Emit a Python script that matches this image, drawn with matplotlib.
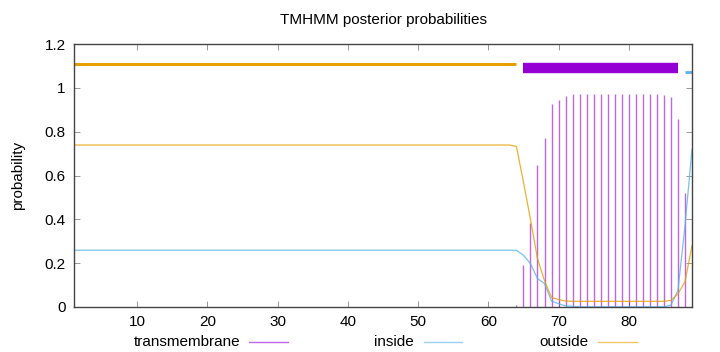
import numpy as np
import matplotlib
matplotlib.use('Agg')
import matplotlib.pyplot as plt
from matplotlib.lines import Line2D

plt.rcParams['font.family'] = ['Liberation Sans', 'DejaVu Sans']

# sequence positions 1..89
pos = np.arange(1, 90)

# posterior probabilities for positions 64..89 (flat before that)
tm_tail = [0.008, 0.19, 0.385, 0.65, 0.77, 0.927, 0.943, 0.964] + [0.97] * 13 + \
          [0.968, 0.958, 0.859, 0.52, 0.0]
inside_tail = [0.259, 0.236, 0.198, 0.13, 0.107, 0.027, 0.015, 0.005, 0.003] + [0.001] * 13 + \
              [0.008, 0.076, 0.37, 0.72]
outside_tail = [0.733, 0.57, 0.40, 0.22, 0.12, 0.043, 0.034, 0.027] + [0.026] * 14 + \
               [0.03, 0.06, 0.115, 0.28]
tm = [0.0] * 63 + tm_tail
inside = [0.259] * 63 + inside_tail
outside = [0.739] * 63 + outside_tail

# predicted topology segments (start, end)
outside_seg = [(1, 64)]
tm_seg = [(65, 87)]
inside_seg = [(88, 89)]

c_tm = '#9400d3'
c_in = '#56b4e9'
c_out = '#e69f00'

fig = plt.figure(figsize=(7.2, 3.52), dpi=100)
ax = fig.add_axes([74 / 720, 1 - 307 / 352, (692 - 74) / 720, (307 - 44) / 352])

ax.vlines(pos, 0, tm, color=c_tm, lw=1.0, alpha=0.6)
ax.plot(pos, inside, color=c_in, lw=0.9, alpha=0.8)
ax.plot(pos, outside, color=c_out, lw=0.9, alpha=0.8)

for s, e in outside_seg:
    ax.plot([s, e], [1.11, 1.11], color=c_out, lw=2.2, solid_capstyle='butt')
for s, e in tm_seg:
    ax.plot([s, e], [1.09, 1.09], color=c_tm, lw=7.5, solid_capstyle='butt')
for s, e in inside_seg:
    ax.plot([s, e], [1.07, 1.07], color=c_in, lw=2.0, solid_capstyle='butt')

ax.set_xlim(1, 89)
ax.set_ylim(0, 1.2)
ax.set_xticks(range(10, 90, 10))
ax.set_yticks([0, 0.2, 0.4, 0.6, 0.8, 1.0, 1.2])
ax.set_yticklabels(['0', '0.2', '0.4', '0.6', '0.8', '1', '1.2'])
ax.tick_params(direction='in', length=4, width=0.6, color='#888888',
               top=True, right=True, labelsize=11, pad=6)
for sp in ax.spines.values():
    sp.set_color('#444444')
    sp.set_linewidth(1.0)

ax.set_ylabel('probability', fontsize=11, labelpad=14)
fig.text(383 / 720, 1 - 20 / 352, 'TMHMM posterior probabilities',
         ha='center', va='center', fontsize=11)

# legend below the plot, gnuplot style (text then line)
leg = [('transmembrane', c_tm, 240, 249, 288),
       ('inside', c_in, 414, 424, 462),
       ('outside', c_out, 589, 598, 637)]
ly = 1 - 342 / 352
for label, col, tx, x0, x1 in leg:
    fig.text(tx / 720, ly, label, ha='right', va='center', fontsize=11)
    fig.add_artist(Line2D([x0 / 720, x1 / 720], [ly, ly], color=col,
                          lw=1.0, alpha=0.6, transform=fig.transFigure))

fig.savefig('out.png', dpi=100)
